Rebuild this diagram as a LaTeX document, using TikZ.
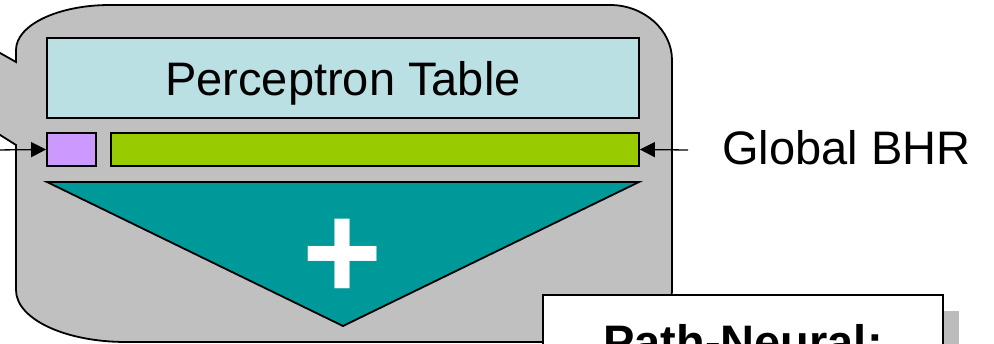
\documentclass[tikz,border=0pt]{standalone}
\usepackage{fontspec}
\setmainfont{Liberation Sans}
\usetikzlibrary{arrows.meta,shadows}
\definecolor{calloutgray}{RGB}{192,192,192}
\definecolor{tablecyan}{RGB}{187,224,227}
\definecolor{biaspink}{RGB}{204,153,255}
\definecolor{bhrgreen}{RGB}{153,204,0}
\definecolor{adderteal}{RGB}{0,153,153}
\definecolor{shadowgray}{RGB}{188,188,188}
\begin{document}
\begin{tikzpicture}[x=1pt,y=1pt,
    box/.style={draw=black,line width=1.8pt,inner sep=0pt},
    bigtext/.style={font=\fontsize{47}{56}\selectfont},
    feed/.style={line width=1.3pt,-{Triangle[length=15pt,width=15pt]}}]
    \useasboundingbox (0,0) rectangle (994,-344);
    \clip (0,0) rectangle (994,-344);
    % callout body with its tail to the left
    \draw [black,line width=1.8pt,fill=calloutgray] (16,-62) -- (16,-50)
        .. controls (16,-25) and (58,-5) .. (110,-5) -- (610,-5)
        .. controls (644,-5) and (672,-30) .. (672,-60) -- (672,-290)
        .. controls (672,-319) and (645,-342) .. (612,-342) -- (126,-342)
        .. controls (65,-342) and (16,-319) .. (16,-290) -- (16,-145)
        -- (-30,-116) -- (-30,-36) -- cycle;
    \node [box,fill=tablecyan,bigtext,minimum width=592pt,text height=58pt,text depth=22pt] (table) at (343,-78) {Perceptron Table};
    \node [box,fill=biaspink,minimum width=49pt,minimum height=33pt] (bias) at (71.5,-149.5) {};
    \node [box,fill=bhrgreen,minimum width=528pt,minimum height=33pt] (history) at (375,-149.5) {};
    % adder
    \draw [black,line width=1.8pt,fill=adderteal] (47,-182) -- (639,-182) -- (343,-326) -- cycle;
    \node [text=white,font=\fontsize{137}{137}\selectfont\bfseries,inner sep=0pt,anchor=base] (plus) at (343,-300) {+};
    % inputs
    \node [bigtext,anchor=base west,inner sep=0pt] (bhr) at (722,-165) {Global BHR};
    \coordinate (bhrtail) at (688,-150);
    \coordinate (biastail) at (-5,-150);
    \draw [feed] (bhrtail) -- (history.east);
    \draw [feed] (biastail) -- (bias.west);
    % label box
    \node [draw=black,line width=2.2pt,fill=white,inner sep=0pt,anchor=north,
        minimum width=400pt,text height=63pt,text depth=60pt,
        font=\fontsize{47}{56}\selectfont\bfseries,
        drop shadow={shadow xshift=16pt,shadow yshift=-16pt,opacity=1,fill=shadowgray,draw=none}]
        (neural) at (743,-294) {Path-Neural:};
\end{tikzpicture}
\end{document}
